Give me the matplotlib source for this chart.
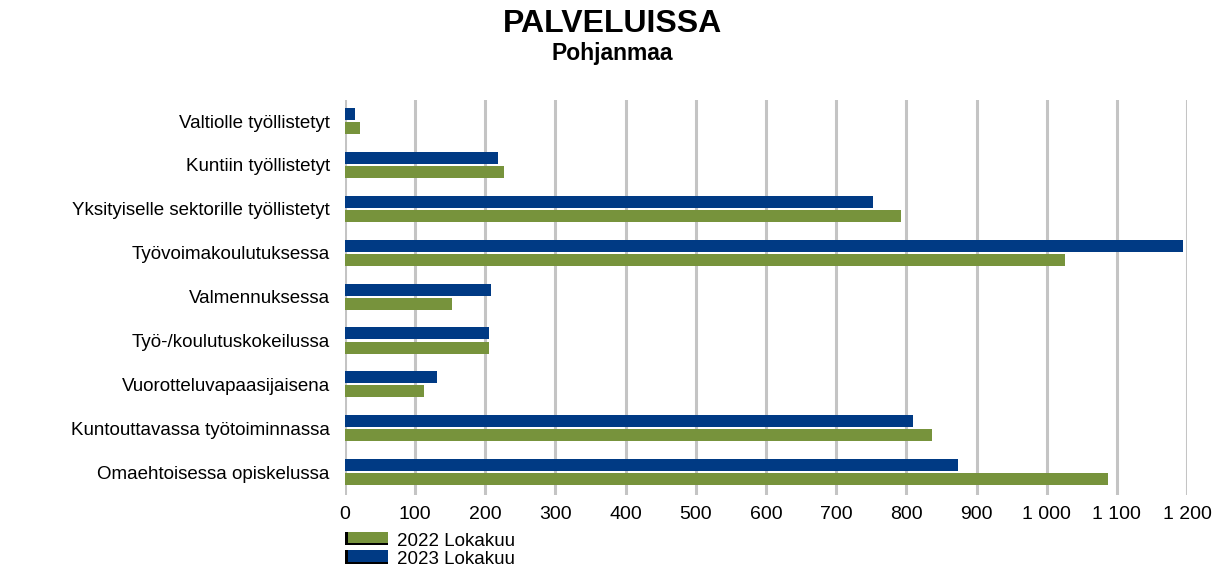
import matplotlib
matplotlib.use('Agg')
import matplotlib.pyplot as plt
from matplotlib.patches import Rectangle
import numpy as np

plt.rcParams['font.family'] = ['Liberation Sans', 'DejaVu Sans']

# luokat ja arvot
categories = ['Valtiolle työllistetyt', 'Kuntiin työllistetyt',
              'Yksityiselle sektorille työllistetyt', 'Työvoimakoulutuksessa',
              'Valmennuksessa', 'Työ-/koulutuskokeilussa',
              'Vuorotteluvapaasijaisena', 'Kuntouttavassa työtoiminnassa',
              'Omaehtoisessa opiskelussa']
values_2022 = [21, 226, 793, 1026, 152, 205, 113, 837, 1088]
values_2023 = [14, 218, 752, 1194, 208, 205, 131, 810, 873]
series_labels = ['2022 Lokakuu', '2023 Lokakuu']
xticks = [0, 100, 200, 300, 400, 500, 600, 700, 800, 900, 1000, 1100, 1200]
xtick_labels = ['0', '100', '200', '300', '400', '500', '600', '700', '800',
                '900', '1 000', '1 100', '1 200']

green = '#77933C'
blue = '#003A84'


# legendan laatikko: varjostettu reuna vasemmalla ja alhaalla
class ShadowBox:
    def __init__(self, color):
        self.color = color


class ShadowHandler:
    def legend_artist(self, legend, orig_handle, fontsize, handlebox):
        x0, y0 = handlebox.xdescent, handlebox.ydescent
        w, h = handlebox.width, handlebox.height
        t = handlebox.get_transform()
        shadow = Rectangle((x0, y0), w, h, facecolor='black', transform=t)
        box = Rectangle((x0 + 2, y0 + 1.5), w - 2, h - 1.5,
                        facecolor=orig_handle.color, transform=t)
        handlebox.add_artist(shadow)
        handlebox.add_artist(box)
        return box


fig = plt.figure(figsize=(12.25, 5.68), dpi=100)
ax = fig.add_axes([0.2816, 0.1285, 0.969 - 0.2816, 0.824 - 0.1285])

y = np.arange(len(categories))
h = 0.273
ax.barh(y - 0.16, values_2023, height=h, color=blue, zorder=3)
ax.barh(y + 0.16, values_2022, height=h, color=green, zorder=3)

ax.set_ylim(len(categories) - 1 + 0.52, -0.48)
ax.set_xlim(0, 1200)
ax.set_yticks(y)
ax.set_yticklabels(categories, fontsize=13.5)
ax.set_xticks(xticks)
ax.set_xticklabels(xtick_labels, fontsize=14)
ax.tick_params(axis='both', length=0)
ax.tick_params(axis='x', pad=8)
ax.tick_params(axis='y', pad=11)
ax.xaxis.grid(True, color='#c4c4c4', linewidth=2.2, zorder=0)
ax.set_axisbelow(True)
for s in ax.spines.values():
    s.set_visible(False)

fig.text(0.5, 0.958, 'PALVELUISSA', ha='center', va='center',
         fontsize=23, fontweight='bold')
fig.text(0.5, 0.905, 'Pohjanmaa', ha='center', va='center',
         fontsize=16.5, fontweight='bold')

handles = [ShadowBox(green), ShadowBox(blue)]
fig.legend(handles, series_labels, loc='upper left',
           bbox_to_anchor=(0.2816, 0.063), frameon=False, fontsize=13.5,
           handlelength=2.3, handleheight=0.75, labelspacing=0.05,
           handletextpad=0.5, borderaxespad=0, borderpad=0,
           handler_map={ShadowBox: ShadowHandler()})

fig.savefig('out.png', dpi=100)
